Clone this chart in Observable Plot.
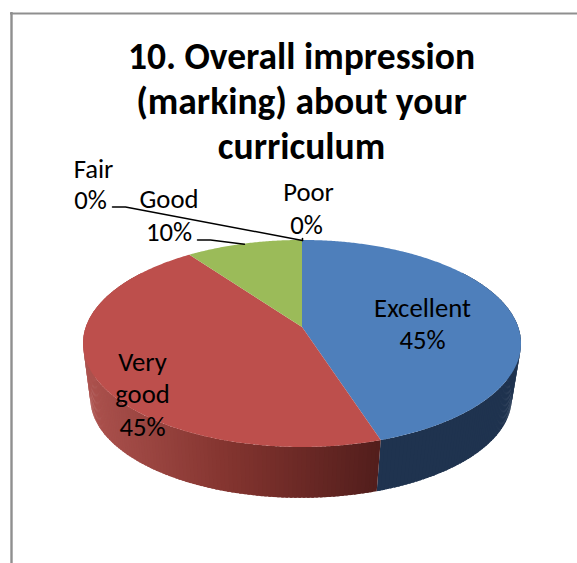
<!DOCTYPE html>
<html>
<head>
<meta charset="utf-8">
<script src="https://cdn.jsdelivr.net/npm/d3@7"></script>
<script src="https://cdn.jsdelivr.net/npm/@observablehq/plot@0.6"></script>
<style>
html,body{margin:0;padding:0;background:#fff;overflow:hidden}
svg{display:block}
</style>
</head>
<body>
<div id="chart"></div>
<script>
const titleLines = ["10. Overall impression", "(marking) about your", "curriculum"];
const categories = ["Excellent", "Very good", "Good", "Fair", "Poor"];
const percents = [45, 45, 10, 0, 0];
const topColors = ["#4e7fbb", "#bd4f4c", "#9bbb59", "#8064a2", "#4bacc6"];

// Perspective view of the disc: near side is larger than the far side.
const W = 577, H = 563;
const upper = {cx: 302, cy: 327, a: 216.2, b: 100.9, p: 0.159};
const lower = {cx: 301, cy: 382.5, a: 208, b: 97, p: 0.159};
const project = (g, deg) => {
  const t = deg * Math.PI / 180, u = Math.sin(t), v = -Math.cos(t), d = 1 - g.p * v;
  return [g.cx + g.a * u / d, g.cy + g.b * v / d];
};

// Slice angles come from the values, clockwise from 12 o'clock.
const total = d3.sum(percents);
let acc = 0;
const slices = categories.map((name, i) => {
  const start = acc / total * 360;
  acc += percents[i];
  return {name, value: percents[i], start, end: acc / total * 360, color: topColors[i]};
});

const fan = [];
for (const s of slices) {
  if (s.value === 0) continue;
  for (let a = s.start; a <= s.end + 1e-6; a += 0.5) {
    const [x2, y2] = project(upper, a);
    fan.push({slice: s.name, fill: s.color, x1: upper.cx, y1: upper.cy, x2, y2});
  }
}

const redWall = d3.scaleLinear().domain([85, 230, 380]).range(["#ac524e", "#83342f", "#531e1c"]).clamp(true);
const wall = [];
for (const s of slices) {
  if (s.value === 0) continue;
  for (let a = s.start; a < s.end; a += 1) {
    const e = Math.min(a + 1.6, s.end);
    const fill = s.name === "Excellent" ? "#1f334f" : s.name === "Very good" ? redWall(project(upper, a)[0]) : "#5f7436";
    for (const q of [a, e]) {
      const [x1, y1] = project(upper, q), [x2, y2] = project(lower, q);
      wall.push({band: s.name + a, fill, x1, y1, x2, y2});
    }
  }
}
// Back of the disc never shows.
const wallDrawn = wall.filter(d => d.y2 > 330);

const labels = [
  {lines: ["Excellent", "45%"], x: [422, 422], y: [316, 348]},
  {lines: ["Very", "good", "45%"], x: [142, 142, 142], y: [370, 402, 435]},
  {lines: ["Good", "10%"], x: [168.5, 168.5], y: [207, 240]},
  {lines: ["Fair", "0%"], x: [93, 90], y: [177, 208]},
  {lines: ["Poor", "0%"], x: [308, 306], y: [200, 233]}
].flatMap(l => l.lines.map((text, i) => ({text, x: l.x[i], y: l.y[i]})));

const goodMid = project(upper, (slices[2].start + slices[2].end) / 2);
const fairEnd = project(upper, slices[3].start);
const leaders = [
  {id: "good", x: 197, y: 239.5}, {id: "good", x: 210, y: 239.5}, {id: "good", x: goodMid[0], y: goodMid[1]},
  {id: "fair", x: 112, y: 206.5}, {id: "fair", x: 125, y: 206.5}, {id: "fair", x: fairEnd[0], y: fairEnd[1]},
  {id: "poor", x: 302, y: 238}, {id: "poor", x: fairEnd[0], y: fairEnd[1]}
];

const titleRows = titleLines.map((text, i) => ({text, y: 68.5 + i * 45.2}));
const font = "Carlito, Calibri, Lato, 'Open Sans', sans-serif";

const chart = Plot.plot({
  width: W, height: H,
  margin: 0,
  x: {domain: [0, W], range: [0, W], axis: null},
  y: {domain: [0, H], range: [0, H], axis: null},
  style: {background: "#fff", fontFamily: font},
  marks: [
    Plot.ruleX([11], {y1: 12, y2: H, stroke: "#8f8f8f", strokeWidth: 2.4}),
    Plot.ruleY([13], {x1: 10, x2: W, stroke: "#8f8f8f", strokeWidth: 2}),
    Plot.area(wallDrawn, {x1: "x1", y1: "y1", x2: "x2", y2: "y2", z: "band", fill: "fill", curve: "linear"}),
    Plot.area(fan, {x1: "x1", y1: "y1", x2: "x2", y2: "y2", z: "slice", fill: "fill", curve: "linear"}),
    Plot.line(leaders, {x: "x", y: "y", z: "id", stroke: "#000", strokeWidth: 1.5, curve: "linear"}),
    Plot.text(titleRows, {x: 301, y: "y", text: "text", fontSize: 37.5, fontWeight: 700, fill: "#000", lineAnchor: "bottom", textAnchor: "middle"}),
    Plot.text(labels, {x: "x", y: "y", text: "text", fontSize: 26.7, fill: "#000", lineAnchor: "bottom", textAnchor: "middle"})
  ]
});
document.getElementById("chart").append(chart);
</script>
</body>
</html>
